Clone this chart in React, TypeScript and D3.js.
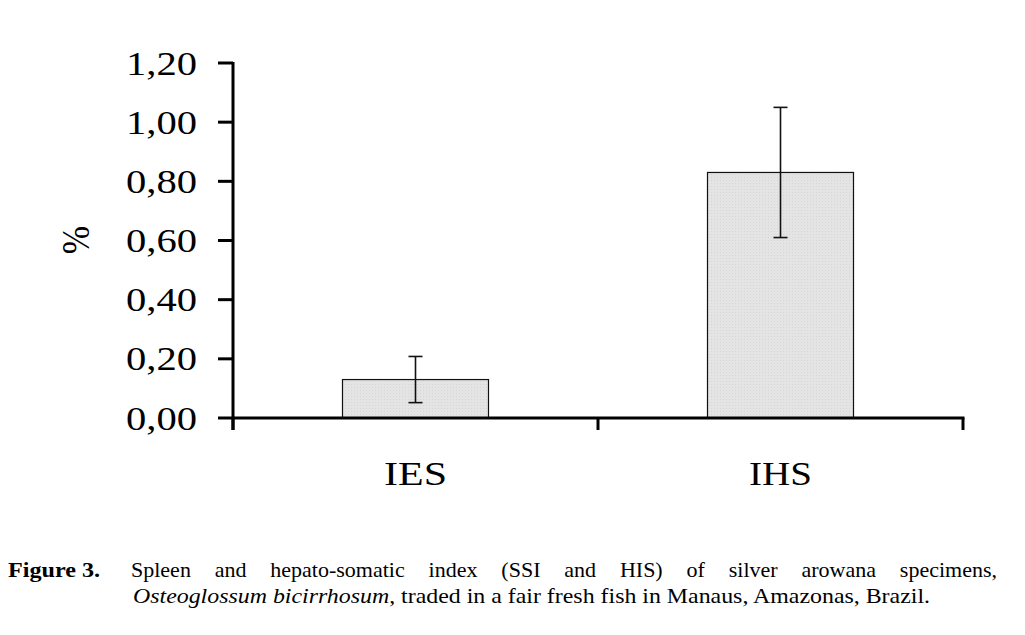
import React, { useEffect, useRef } from "react";
import * as d3 from "d3";

const categories = ["IES", "IHS"];
const means = [0.13, 0.83];
const errors = [0.078, 0.22];
const yTicks = [0, 0.2, 0.4, 0.6, 0.8, 1.0, 1.2];
const yLabel = "%";
const captionLabel = "Figure 3.";
const captionLine1 = "Spleen and hepato-somatic index (SSI and HIS) of silver arowana specimens,";
const captionLine2Italic = "Osteoglossum bicirrhosum";
const captionLine2Rest = ", traded in a fair fresh fish in Manaus, Amazonas, Brazil.";

const W = 1025;
const H = 635;
const SERIF = "'Liberation Serif', 'Times New Roman', serif";

export default function App() {
  const ref = useRef<SVGSVGElement | null>(null);

  useEffect(() => {
    const svg = d3.select(ref.current);
    svg.selectAll("*").remove();

    const x0 = 233, x1 = 963, yBase = 418, yTop = 63;
    const x = d3.scaleBand<string>().domain(categories).range([x0, x1]).paddingInner(0.6).paddingOuter(0.3);
    const y = d3.scaleLinear().domain([0, 1.2]).range([yBase, yTop]);

    const defs = svg.append("defs");
    const pat = defs.append("pattern").attr("id", "dots").attr("width", 3).attr("height", 3).attr("patternUnits", "userSpaceOnUse");
    pat.append("rect").attr("width", 3).attr("height", 3).attr("fill", "#e4e4e4");
    pat.append("rect").attr("width", 1).attr("height", 1).attr("fill", "#d6d6d6");

    // bars
    svg.selectAll("rect.bar").data(categories).enter().append("rect")
      .attr("class", "bar")
      .attr("x", (d) => x(d)!)
      .attr("y", (_, i) => y(means[i]))
      .attr("width", x.bandwidth())
      .attr("height", (_, i) => yBase - y(means[i]))
      .attr("fill", "url(#dots)")
      .attr("stroke", "#111")
      .attr("stroke-width", 1.2);

    // error bars
    categories.forEach((c, i) => {
      const cx = x(c)! + x.bandwidth() / 2;
      const hi = y(means[i] + errors[i]);
      const lo = y(means[i] - errors[i]);
      const g = svg.append("g").attr("stroke", "#111").attr("stroke-width", 1.6);
      g.append("line").attr("x1", cx).attr("x2", cx).attr("y1", hi).attr("y2", lo);
      g.append("line").attr("x1", cx - 7).attr("x2", cx + 7).attr("y1", hi).attr("y2", hi);
      g.append("line").attr("x1", cx - 7).attr("x2", cx + 7).attr("y1", lo).attr("y2", lo);
    });

    // axes
    const ax = svg.append("g").attr("stroke", "#000").attr("stroke-width", 3).attr("fill", "none");
    ax.append("line").attr("x1", x0).attr("x2", x0).attr("y1", yTop - 1).attr("y2", 430);
    ax.append("line").attr("x1", x0).attr("x2", x1 + 1.5).attr("y1", yBase).attr("y2", yBase);
    yTicks.forEach((t) => {
      ax.append("line").attr("x1", 218).attr("x2", x0).attr("y1", y(t)).attr("y2", y(t));
    });
    const xTickPos = [x0, (x0 + x1) / 2, x1];
    xTickPos.forEach((p) => {
      ax.append("line").attr("x1", p).attr("x2", p).attr("y1", yBase).attr("y2", 430);
    });

    const fmt = (v: number) => v.toFixed(2).replace(".", ",");
    // y tick labels
    svg.selectAll("text.ytick").data(yTicks).enter().append("text")
      .attr("class", "ytick")
      .attr("x", 197)
      .attr("y", (d) => y(d))
      .attr("dy", "0.34em")
      .attr("text-anchor", "end")
      .attr("font-family", SERIF)
      .attr("font-size", 34)
      .attr("textLength", 71)
      .attr("lengthAdjust", "spacingAndGlyphs")
      .attr("fill", "#000")
      .text((d) => fmt(d));

    // x category labels
    svg.selectAll("text.xcat").data(categories).enter().append("text")
      .attr("class", "xcat")
      .attr("x", (d) => x(d)! + x.bandwidth() / 2 - 31.5)
      .attr("y", 485)
      .attr("font-family", SERIF)
      .attr("font-size", 34)
      .attr("textLength", 63)
      .attr("lengthAdjust", "spacingAndGlyphs")
      .attr("fill", "#000")
      .text((d) => d);

    // y label
    svg.append("text")
      .attr("transform", "translate(75,240) scale(1.2,1) rotate(-90)")
      .attr("text-anchor", "middle")
      .attr("dy", "0.34em")
      .attr("font-family", SERIF)
      .attr("font-size", 34)
      .attr("fill", "#000")
      .text(yLabel);

    // caption
    const cap = svg.append("g").attr("font-family", SERIF).attr("font-size", 22).attr("fill", "#000");
    cap.append("text").attr("x", 8).attr("y", 577).attr("font-weight", "bold")
      .attr("textLength", 92).attr("lengthAdjust", "spacingAndGlyphs").text(captionLabel);

    // justified line 1
    const words = captionLine1.split(" ");
    const left = 131, right = 997;
    const nodes = words.map((w) => cap.append("text").attr("y", 577).text(w));
    const widths = nodes.map((n) => (n.node() as SVGTextElement).getComputedTextLength());
    const total = d3.sum(widths);
    const gap = (right - left - total) / (words.length - 1);
    let cx = left;
    nodes.forEach((n, i) => {
      n.attr("x", cx);
      cx += widths[i] + gap;
    });

    const l2 = cap.append("text").attr("x", 133).attr("y", 603)
      .attr("textLength", 797).attr("lengthAdjust", "spacingAndGlyphs");
    l2.append("tspan").attr("font-style", "italic").text(captionLine2Italic);
    l2.append("tspan").text(captionLine2Rest);
  }, []);

  return (
    <svg ref={ref} width={W} height={H} style={{ display: "block", position: "absolute", left: 0, top: 0, background: "#fff" }} />
  );
}
